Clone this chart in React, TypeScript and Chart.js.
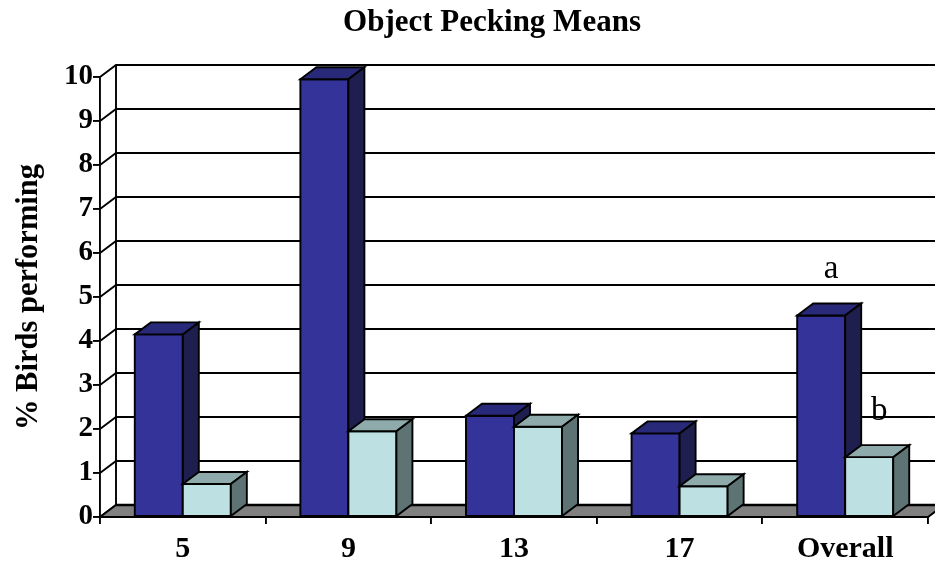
import { useEffect, useRef } from "react";
import { Chart, registerables } from "chart.js";

Chart.register(...registerables);

// Age groups and the two means per group
const categories = ["5", "9", "13", "17", "Overall"];
const seriesA = [4.15, 9.95, 2.3, 1.9, 4.58];
const seriesB = [0.75, 1.95, 2.05, 0.7, 1.36];
const yMin = 0;
const yMax = 10;
const yStep = 1;
// significance letters above the "Overall" pair
const overallLetters = ["a", "b"];

const chartTitle = "Object Pecking Means";
const yTitle = "% Birds performing";

// depth offset of the pseudo-3D walls and boxes
const DX = 16;
const DY = -12;

const faceColors = [
  { front: "#333399", top: "#29297a", side: "#1f1f4f" },
  { front: "#bde0e3", top: "#8eaaab", side: "#5e7373" },
];

const SERIF = "'Liberation Serif', 'Times New Roman', serif";
const LINE = 1.9;

function poly(ctx: CanvasRenderingContext2D, pts: number[][], fill: string) {
  ctx.beginPath();
  ctx.moveTo(pts[0][0], pts[0][1]);
  for (let i = 1; i < pts.length; i++) ctx.lineTo(pts[i][0], pts[i][1]);
  ctx.closePath();
  ctx.fillStyle = fill;
  ctx.fill();
  ctx.stroke();
}

const box3d = {
  id: "box3d",
  beforeDatasetsDraw(chart: any) {
    const { ctx, chartArea, scales } = chart;
    const { left, right, top, bottom } = chartArea;
    const y = scales.y;
    ctx.save();
    ctx.strokeStyle = "#000";
    ctx.lineWidth = LINE;
    ctx.lineJoin = "miter";

    // walls: diagonal connectors on the side wall + horizontal lines on the back wall
    for (const t of y.ticks) {
      const py = y.getPixelForValue(t.value);
      ctx.beginPath();
      ctx.moveTo(left, py);
      ctx.lineTo(left + DX, py + DY);
      ctx.lineTo(chart.width, py + DY);
      ctx.stroke();
    }
    ctx.beginPath();
    ctx.moveTo(left + DX, top + DY);
    ctx.lineTo(left + DX, bottom + DY);
    ctx.stroke();

    // floor
    poly(
      ctx,
      [
        [left, bottom],
        [right, bottom],
        [right + DX, bottom + DY],
        [left + DX, bottom + DY],
      ],
      "#808080"
    );
    ctx.lineWidth = 2.6;
    ctx.beginPath();
    ctx.moveTo(left + DX, bottom + DY);
    ctx.lineTo(chart.width, bottom + DY);
    ctx.stroke();
    ctx.restore();
  },
  afterDatasetsDraw(chart: any) {
    const { ctx } = chart;
    const metas = chart.data.datasets.map((_: any, i: number) => chart.getDatasetMeta(i));
    ctx.save();
    ctx.strokeStyle = "#000";
    ctx.lineWidth = LINE;
    ctx.lineJoin = "miter";
    for (let c = 0; c < categories.length; c++) {
      metas.forEach((meta: any, d: number) => {
        const bar = meta.data[c];
        if (!bar) return;
        const { x, y, base, width } = bar.getProps(["x", "y", "base", "width"], true);
        const l = x - width / 2;
        const r = x + width / 2;
        const col = faceColors[d];
        poly(ctx, [[l, y], [r, y], [r, base], [l, base]], col.front);
        poly(ctx, [[l, y], [r, y], [r + DX, y + DY], [l + DX, y + DY]], col.top);
        poly(ctx, [[r, y], [r + DX, y + DY], [r + DX, base + DY], [r, base]], col.side);
      });
    }

    // letters over the last pair
    ctx.fillStyle = "#000";
    ctx.font = `33px ${SERIF}`;
    ctx.textAlign = "center";
    ctx.textBaseline = "alphabetic";
    const last = categories.length - 1;
    overallLetters.forEach((letter, d) => {
      const bar = metas[d]?.data[last];
      if (!bar) return;
      const { x, y } = bar.getProps(["x", "y"], true);
      ctx.fillText(letter, x + 10, y - 37);
    });
    ctx.restore();
  },
};

export default function App() {
  const ref = useRef<HTMLCanvasElement>(null);

  useEffect(() => {
    if (!ref.current) return;
    Chart.defaults.font.family = SERIF;
    Chart.defaults.color = "#000";
    const chart = new Chart(ref.current, {
      type: "bar",
      data: {
        labels: categories,
        datasets: [
          {
            label: "Series 1",
            data: seriesA,
            backgroundColor: faceColors[0].front,
            borderColor: "#000",
            borderWidth: LINE,
            borderSkipped: false,
            categoryPercentage: 0.58,
            barPercentage: 1,
          },
          {
            label: "Series 2",
            data: seriesB,
            backgroundColor: faceColors[1].front,
            borderColor: "#000",
            borderWidth: LINE,
            borderSkipped: false,
            categoryPercentage: 0.58,
            barPercentage: 1,
          },
        ],
      },
      options: {
        animation: false,
        responsive: false,
        devicePixelRatio: 1,
        layout: { padding: { left: 56, right: 7, top: 0, bottom: 0 } },
        plugins: {
          legend: { display: false },
          tooltip: { enabled: false },
          title: {
            display: true,
            text: chartTitle,
            color: "#000",
            font: { family: SERIF, size: 31, weight: "bold" },
            padding: { top: 4, bottom: 35.8 },
          },
        },
        scales: {
          x: {
            offset: true,
            grid: {
              offset: true,
              drawOnChartArea: false,
              drawTicks: true,
              tickLength: 7,
              color: "#000",
              lineWidth: LINE,
            },
            border: { display: true, color: "#000", width: LINE },
            ticks: {
              color: "#000",
              font: { family: SERIF, size: 30, weight: "bold" },
              padding: 7,
              maxRotation: 0,
              autoSkip: false,
            },
            afterFit: (s: any) => {
              s.height = 50;
            },
          },
          y: {
            min: yMin,
            max: yMax,
            grid: {
              drawOnChartArea: false,
              drawTicks: true,
              tickLength: 7,
              color: "#000",
              lineWidth: LINE,
            },
            border: { display: true, color: "#000", width: LINE },
            ticks: {
              stepSize: yStep,
              color: "#000",
              font: { family: SERIF, size: 29, weight: "bold" },
              padding: 0,
            },
            title: {
              display: true,
              text: yTitle,
              color: "#000",
              font: { family: SERIF, size: 30.5, weight: "bold" },
              padding: { top: -45, bottom: 0 },
            },
            afterFit: (s: any) => {
              s.width = 44;
            },
          },
        },
      },
      plugins: [box3d],
    });
    return () => chart.destroy();
  }, []);

  return (
    <div
      style={{
        position: "fixed",
        left: 0,
        top: 0,
        width: 935,
        height: 567,
        background: "#fff",
      }}
    >
      <canvas
        ref={ref}
        width={935}
        height={567}
        style={{ display: "block", width: 935, height: 567 }}
      />
    </div>
  );
}
